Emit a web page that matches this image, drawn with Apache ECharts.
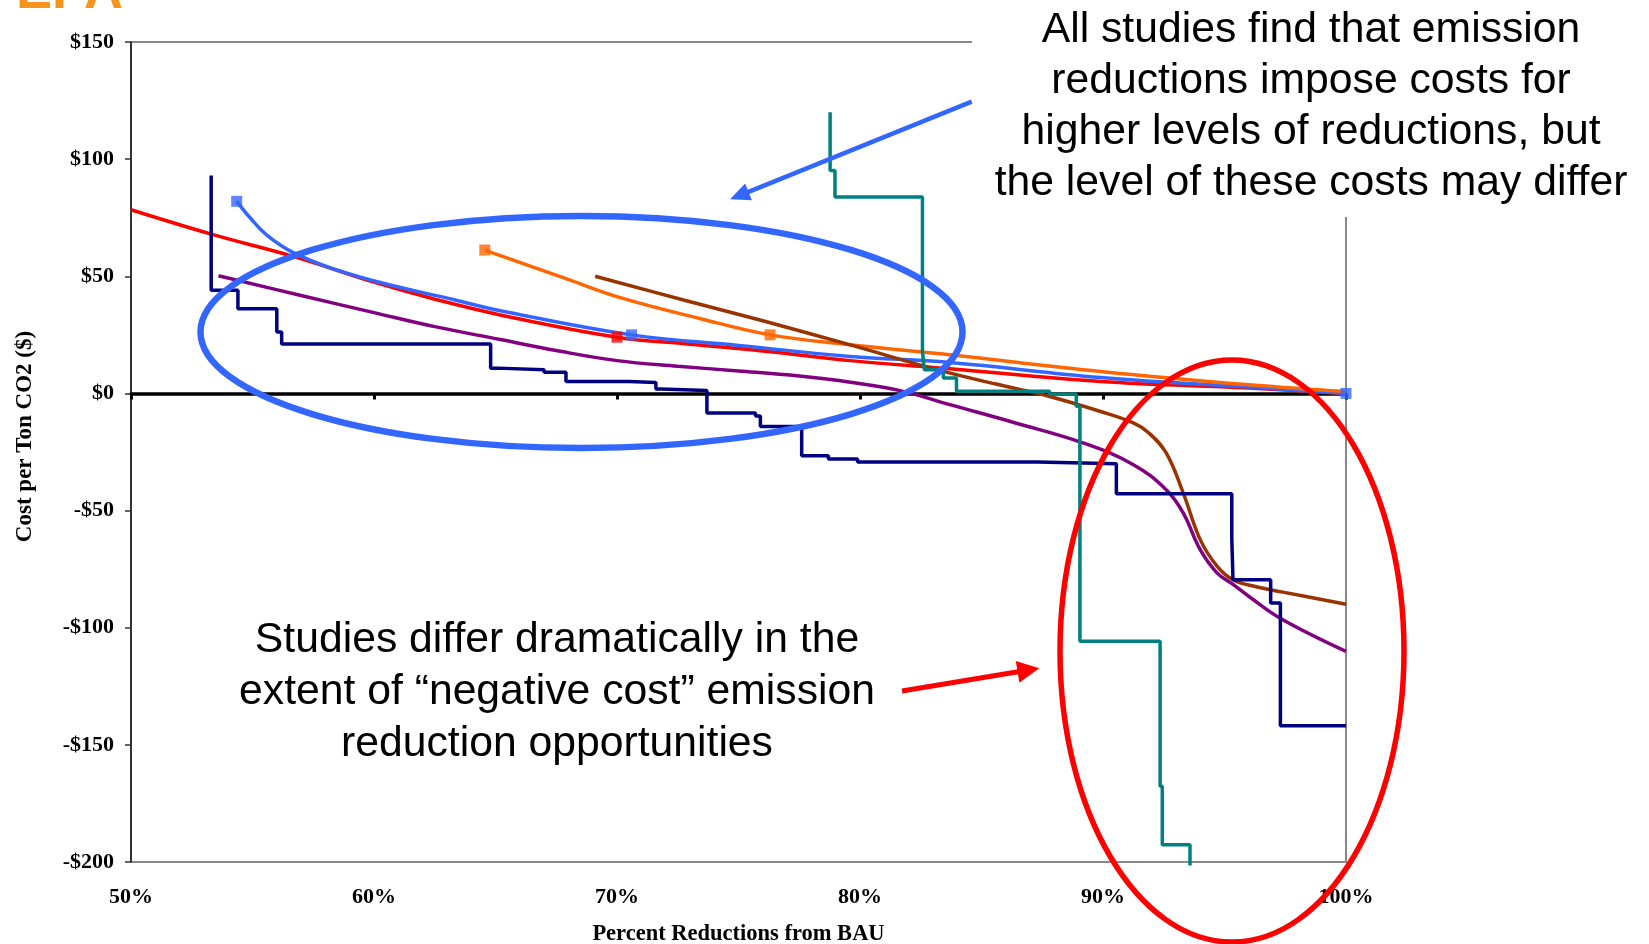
<!DOCTYPE html>
<html>
<head>
<meta charset="utf-8">
<title>Cost per Ton CO2 vs Percent Reductions from BAU</title>
<script src="https://cdn.jsdelivr.net/npm/echarts@6/dist/echarts.min.js"></script>
<style>
html, body { margin: 0; padding: 0; background: #fff; }
#main { width: 1649px; height: 944px; }
</style>
</head>
<body>
<div id="main"></div>
<script>
// axis ticks
var xTicks = [50, 60, 70, 80, 90, 100];      // percent reductions from BAU
var yTicks = [-200, -150, -100, -50, 0, 50, 100, 150];   // $ per ton CO2

// smooth study curves, [percent, $/ton]
var redCurve = [[50, 78.4], [53.3, 68], [56.7, 58.4], [60, 47.5], [62.4, 40.5], [65.2, 33.5], [70, 24],
  [73, 21], [76.2, 17.9], [79.6, 14], [83.7, 10.5], [89.9, 5.1], [96, 2.3], [100, 0]];
var redMarks = [[70, 24]];

var blueCurve = [[54.35, 82], [54.9, 75], [55.6, 67.5], [56.7, 60], [58.3, 53.3], [60.5, 46.7], [63.3, 40],
  [65.2, 35.3], [70.6, 25], [75, 20.5], [79.6, 15.8], [83.7, 13.2], [89.9, 6.8], [96, 2.7], [100, 0]];
var blueMarks = [[54.35, 82], [70.6, 25], [100, 0]];

var orangeCurve = [[64.56, 61.2], [65.2, 58.8], [67.9, 49], [70.1, 41], [73.4, 32], [76.3, 25], [79.6, 20.8],
  [83.7, 16.5], [89.9, 9.4], [96, 3.7], [100, 0.8]];
var orangeMarks = [[64.56, 61.2], [76.3, 25]];

var brownCurve = [[69.1, 50], [72.7, 40], [76, 31], [79.6, 20.7], [83.4, 9.5], [85.6, 4], [87.8, -1.3],
  [89.9, -7.7], [91.25, -12.6], [91.9, -17], [92.6, -25.4], [93.3, -42.4], [94, -62.4], [94.7, -73.8],
  [95.35, -79.5], [96.3, -82.5], [97.4, -84.8], [100, -90]];

var purpleCurve = [[53.6, 50.2], [57, 41.8], [60, 34.5], [62.5, 28.5], [65.2, 23], [67.5, 18.3], [70, 14],
  [72.5, 11.6], [75, 9.6], [77.5, 7.4], [79.6, 4.8], [81.65, 1.2], [83.7, -4.8], [86.4, -12.6], [89.2, -21.2],
  [91.25, -30.4], [92.6, -41.1], [93.3, -51], [94, -66.7], [94.7, -76.7], [95.35, -81.5], [96.05, -87],
  [97.4, -96.6], [100, -110.1]];

// step curves: [percent where the step drops, new $/ton]
var navySteps = [[53.3, 93], [53.3, 44], [54.4, 36.1], [56.0, 26.2], [56.2, 21.1], [64.8, 10.8], [65.1, 10.1],
  [67.0, 9.0], [67.9, 5.1], [70.5, 4.7], [71.6, 1.9], [71.8, 1.3], [73.7, -8.4], [75.7, -9.6], [75.9, -14.1],
  [77.6, -26.6], [78.7, -28.0], [79.9, -29.3], [87.3, -30.0], [90.55, -42.8], [95.3, -61.7], [95.35, -79.5],
  [96.9, -89.5], [97.3, -141.8], [100, -141.8]];

var tealSteps = [[78.77, 120], [78.77, 95.2], [78.97, 83.8], [82.57, 17.9], [82.65, 10.1], [83.43, 6.6],
  [83.97, 0.9], [87.8, -0.3], [88.9, -5.5], [89.05, -105.8], [92.35, -167.7], [92.44, -192.6], [93.58, -201.5]];

var serif = '"Times New Roman", "Liberation Serif", serif';
var sans = 'Arial, "Liberation Sans", sans-serif';

var chart = echarts.init(document.getElementById('main'));

function money(v) {
  return v < 0 ? '-$' + (-v) : '$' + v;
}

function curve(name, pts, color) {
  return {
    name: name, type: 'line', data: pts, smooth: 0.4, symbol: 'none',
    lineStyle: { color: color, width: 3.5 }, itemStyle: { color: color }, z: 3
  };
}

function steps(name, pts, color) {
  return {
    name: name, type: 'line', data: pts, step: 'end', symbol: 'none', clip: false,
    lineStyle: { color: color, width: 3.5 }, itemStyle: { color: color }, z: 3
  };
}

function marks(name, pts, color) {
  return {
    name: name, type: 'scatter', data: pts, symbol: 'rect', symbolSize: 11,
    itemStyle: { color: color }, z: 5
  };
}

// arrow = shaft + triangular head
function arrow(x1, y1, x2, y2, color, w, headLen, headHalf) {
  var dx = x2 - x1, dy = y2 - y1;
  var len = Math.sqrt(dx * dx + dy * dy);
  var ux = dx / len, uy = dy / len;
  var bx = x2 - ux * headLen, by = y2 - uy * headLen;
  return [
    { type: 'line', z: 100, shape: { x1: x1, y1: y1, x2: bx + ux * 2, y2: by + uy * 2 },
      style: { stroke: color, lineWidth: w } },
    { type: 'polygon', z: 100,
      shape: { points: [[x2, y2], [bx - uy * headHalf, by + ux * headHalf], [bx + uy * headHalf, by - ux * headHalf]] },
      style: { fill: color } }
  ];
}

var xStep = xTicks[1] - xTicks[0];
var yStep = yTicks[1] - yTicks[0];

var option = {
  animation: false,
  backgroundColor: '#fff',
  grid: {
    left: 131, right: 303, top: 42, bottom: 82,
    show: true, borderColor: '#888', borderWidth: 2,
    outerBoundsMode: 'none'
  },
  xAxis: [
    {
      type: 'value', position: 'bottom',
      min: xTicks[0], max: xTicks[xTicks.length - 1], interval: xStep,
      axisLine: { show: false, onZero: false },
      axisTick: { show: false },
      splitLine: { show: false },
      axisLabel: {
        formatter: '{value}%', color: '#000', fontFamily: serif, fontWeight: 'bold', fontSize: 22, margin: 24
      },
      name: 'Percent Reductions from BAU',
      nameLocation: 'middle', nameGap: 61, nameMoveOverlap: false,
      nameTextStyle: { color: '#000', fontFamily: serif, fontWeight: 'bold', fontSize: 22.5 }
    },
    {
      // the heavy zero line with its downward ticks
      type: 'value', position: 'bottom',
      min: xTicks[0], max: xTicks[xTicks.length - 1], interval: xStep,
      axisLine: { show: true, onZero: true, lineStyle: { color: '#000', width: 3.5 } },
      axisTick: { show: true, length: 6, lineStyle: { color: '#000', width: 3 } },
      axisLabel: { show: false },
      splitLine: { show: false }
    }
  ],
  yAxis: {
    type: 'value',
    min: yTicks[0], max: yTicks[yTicks.length - 1], interval: yStep,
    axisLine: { show: true, onZero: false, lineStyle: { color: '#333', width: 2 } },
    axisTick: { show: true, length: 6, lineStyle: { color: '#333', width: 1.5 } },
    splitLine: { show: false },
    axisLabel: {
      formatter: money, color: '#000', fontFamily: serif, fontWeight: 'bold', fontSize: 22, margin: 17
    },
    name: 'Cost per Ton CO2 ($)',
    nameLocation: 'middle', nameRotate: 90, nameGap: 94, nameMoveOverlap: false,
    nameTextStyle: { color: '#000', fontFamily: serif, fontWeight: 'bold', fontSize: 23, padding: [0, 0, 0, 31] }
  },
  series: [
    curve('Study A', redCurve, '#FF0000'),
    curve('Study B', blueCurve, '#3366FF'),
    curve('Study C', orangeCurve, '#FF6600'),
    curve('Study D', brownCurve, '#993300'),
    curve('Study E', purpleCurve, '#800080'),
    steps('Study F', navySteps, '#000080'),
    steps('Study G', tealSteps, '#008080'),
    marks('Study A points', redMarks, '#FF0000'),
    marks('Study B points', blueMarks, '#3366FF'),
    marks('Study C points', orangeMarks, '#FF6600')
  ],
  graphic: [
    {
      type: 'text', z: 100, left: 16, top: -34,
      style: { text: 'EPA', fill: '#F7941E', fontFamily: sans, fontWeight: 'bold', fontSize: 54 }
    },
    {
      type: 'ellipse', z: 100, shape: { cx: 581.5, cy: 332, rx: 381, ry: 116 },
      style: { fill: 'none', stroke: '#3366FF', lineWidth: 6.5 }
    },
    {
      type: 'ellipse', z: 100, shape: { cx: 1232, cy: 651, rx: 172, ry: 291 },
      style: { fill: 'none', stroke: '#FF0000', lineWidth: 5.5 }
    },
    // white box behind the upper note hides the plot frame
    { type: 'rect', z: 90, shape: { x: 972, y: 0, width: 677, height: 217 }, style: { fill: '#fff' } },
    {
      type: 'text', z: 100, x: 1311, y: 5,
      style: {
        text: 'All studies find that emission\nreductions impose costs for\nhigher levels of reductions, but\nthe level of these costs may differ',
        fill: '#000', fontFamily: sans, fontSize: 42.7, lineHeight: 51, align: 'center', verticalAlign: 'top'
      }
    },
    {
      type: 'text', z: 100, x: 557, y: 614,
      style: {
        text: 'Studies differ dramatically in the\nextent of \u201cnegative cost\u201d emission\nreduction opportunities',
        fill: '#000', fontFamily: sans, fontSize: 42.7, lineHeight: 52, align: 'center', verticalAlign: 'top'
      }
    }
  ].concat(arrow(971.7, 101.7, 730, 199.3, '#3366FF', 4.5, 20, 9))
   .concat(arrow(902, 691, 1039.3, 668.3, '#FF0000', 5, 22, 11))
};

chart.setOption(option);
</script>
</body>
</html>
